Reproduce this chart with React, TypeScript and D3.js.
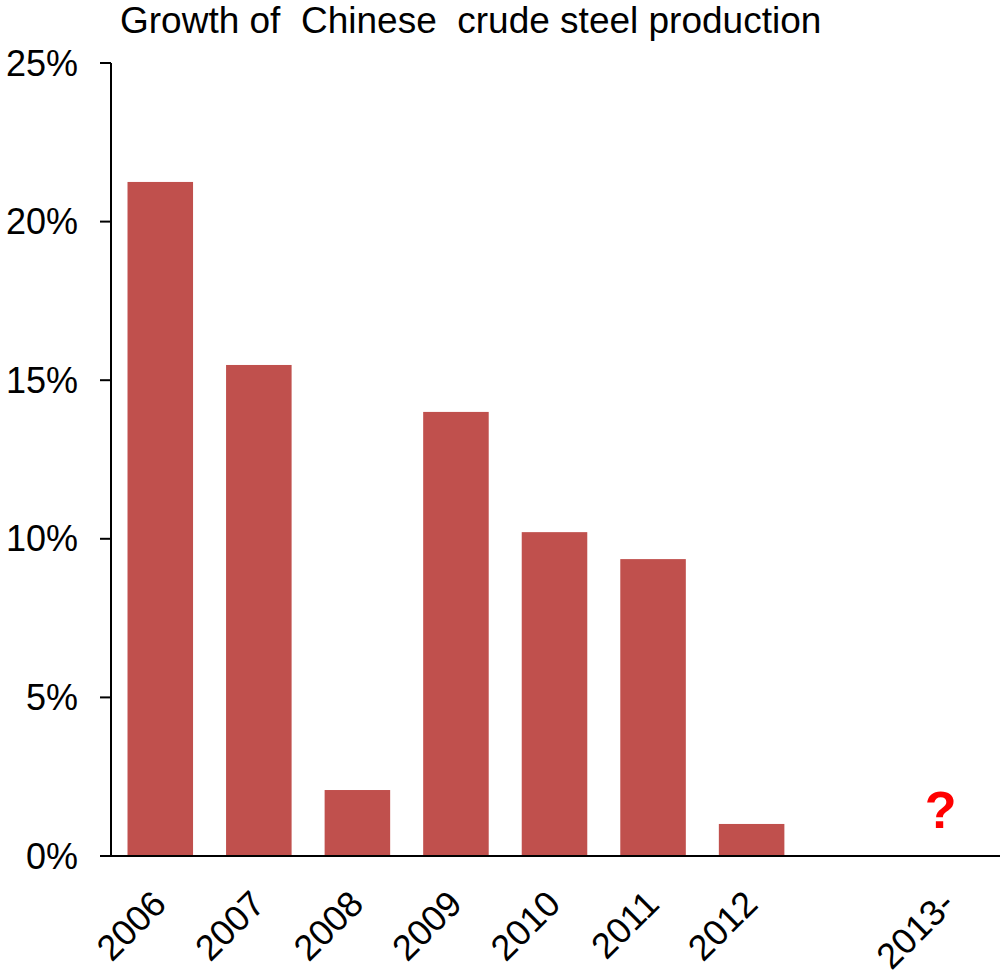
import React from "react";
import * as d3 from "d3";

const categories = ["2006", "2007", "2008", "2009", "2010", "2011", "2012", "", "2013-"];
const values: (number | null)[] = [21.25, 15.48, 2.08, 14.0, 10.21, 9.36, 1.01, null, null];
const yTicks = [0, 5, 10, 15, 20, 25];
const title = "Growth of  Chinese  crude steel production";
const unknownMark = "?";
const unknownCategory = "2013-";

export default function App() {
  const width = 1000;
  const height = 975;
  const keys = categories.map((c, i) => c || "gap" + i);
  const x = d3.scaleBand<string>().domain(keys).range([111, 998]).paddingInner(0.335).paddingOuter(0.1675);
  const y = d3.scaleLinear().domain([0, 25]).range([856, 63]);
  const font = "'Liberation Sans', Arial, sans-serif";
  return (
    <svg width={width} height={height} style={{ position: "absolute", left: 0, top: 0 }} fontFamily={font}>
      <text x={120} y={33} fontSize={37} style={{ whiteSpace: "pre" }}>{title}</text>
      {values.map((v, i) =>
        v == null ? null : (
          <rect key={i} x={x(keys[i])!} y={y(v)} width={x.bandwidth()} height={y(0) - y(v)} fill="#C0504D" />
        )
      )}
      <line x1={111} x2={111} y1={y(25)} y2={y(0)} stroke="#000" strokeWidth={2} />
      <line x1={100} x2={1000} y1={y(0)} y2={y(0)} stroke="#000" strokeWidth={2} />
      {yTicks.map((t) => (
        <g key={t}>
          <line x1={100} x2={111} y1={y(t)} y2={y(t)} stroke="#000" strokeWidth={2} />
          <text x={78} y={y(t)} dy="0.35em" textAnchor="end" fontSize={36}>{t + "%"}</text>
        </g>
      ))}
      {categories.map((c, i) =>
        c ? (
          <text key={c} transform={`translate(${x(keys[i])! + x.bandwidth() / 2 + 8},${906}) rotate(-45)`} textAnchor="end" fontSize={36}>{c}</text>
        ) : null
      )}
      <text x={x(unknownCategory)! + x.bandwidth() / 2 - 8} y={828} textAnchor="middle" fontSize={52} fontWeight="bold" fill="#FF0000">{unknownMark}</text>
    </svg>
  );
}
